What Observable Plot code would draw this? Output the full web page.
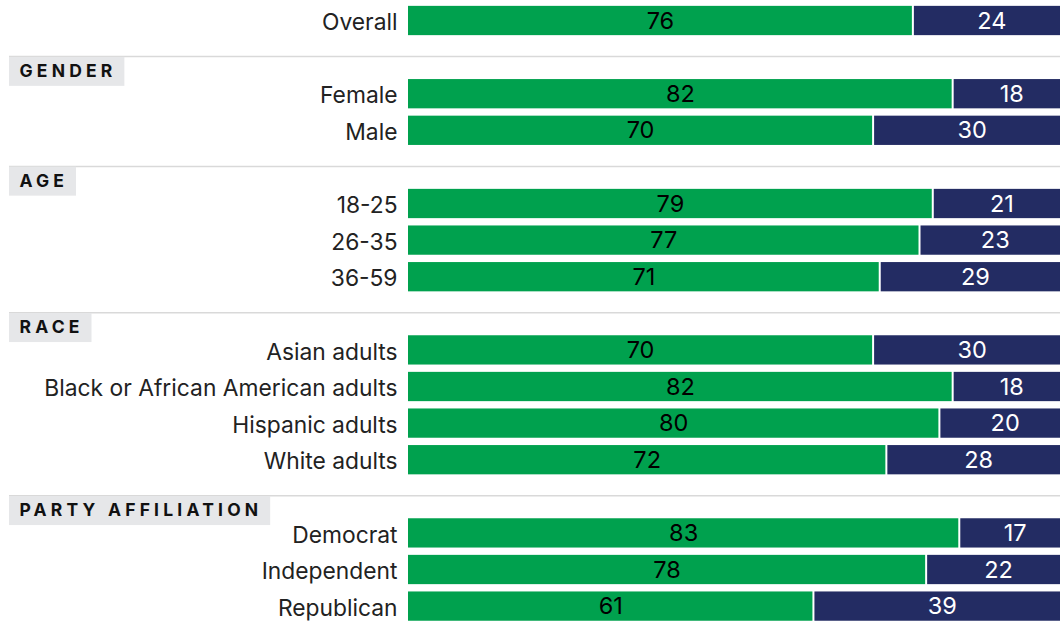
<!DOCTYPE html>
<html>
<head>
<meta charset="utf-8">
<script src="https://cdn.jsdelivr.net/npm/d3@7"></script>
<script src="https://cdn.jsdelivr.net/npm/@observablehq/plot@0.6"></script>
<style>
  html, body { margin: 0; padding: 0; background: #fff; overflow: hidden; }
  #chart svg { display: block; }
</style>
</head>
<body>
<div id="chart"></div>
<script>
// Row labels, the section each row belongs to, and the two shares per row
const rowLabels = [
  "Overall",
  "Female", "Male",
  "18-25", "26-35", "36-59",
  "Asian adults", "Black or African American adults", "Hispanic adults", "White adults",
  "Democrat", "Independent", "Republican"
];
const rowSections = [
  "",
  "GENDER", "GENDER",
  "AGE", "AGE", "AGE",
  "RACE", "RACE", "RACE", "RACE",
  "PARTY AFFILIATION", "PARTY AFFILIATION", "PARTY AFFILIATION"
];
const sectionNames = ["GENDER", "AGE", "RACE", "PARTY AFFILIATION"];
const yesValues = [76, 82, 70, 79, 77, 71, 70, 82, 80, 72, 83, 78, 61];
const noValues  = [24, 18, 30, 21, 23, 29, 30, 18, 20, 28, 17, 22, 39];

const rows = rowLabels.map((label, i) => ({
  label, section: rowSections[i], yes: yesValues[i], no: noValues[i]
}));

// Each section gets its own band slot for its heading
const slotKey = s => "§" + s;
const slots = [];
let current = "";
for (const r of rows) {
  if (r.section !== current) { slots.push(slotKey(r.section)); current = r.section; }
  slots.push(r.label);
}
const headers = sectionNames.map(name => ({name, slot: slotKey(name)}));

const GREEN = "#00a14e";
const NAVY = "#232c63";
const FONT = "Inter, 'Noto Sans', sans-serif";
const HEAD_SPACING = 4.2;

const chart = Plot.plot({
  width: 1060,
  height: 623,
  marginTop: 0,
  marginBottom: 0,
  marginLeft: 0,
  marginRight: 0,
  style: {fontFamily: FONT, background: "#fff"},
  x: {domain: [0, 100], range: [408, 1071], axis: null},
  y: {domain: slots, range: [2.2, 624.4], round: false, paddingInner: 0.2, paddingOuter: 0.1, align: 0.5, axis: null},
  marks: [
    Plot.ruleY(headers, {y: "slot", dy: -1, stroke: "#d9d9d9", strokeWidth: 1.5, insetLeft: 9}),
    Plot.barX(rows, {y: "label", x1: 0, x2: "yes", fill: GREEN}),
    Plot.barX(rows, {y: "label", x1: "yes", x2: 100, fill: NAVY, insetLeft: 2}),
    Plot.text(rows, {y: "label", x: d => d.yes / 2, text: d => String(d.yes), fill: "#000", fontSize: 23.5}),
    Plot.text(rows, {y: "label", x: d => d.yes + d.no / 2, text: d => String(d.no), fill: "#fff", fontSize: 23.5}),
    Plot.text(rows, {y: "label", x: 0, dx: -11, dy: 2, textAnchor: "end", text: "label", fill: "#222", fontSize: 22.8}),
    Plot.text(headers, {
      y: "slot", frameAnchor: "left", dx: 19, dy: 14, text: "name",
      fontSize: 17.5, fontWeight: 700, fill: "#111"
    })
  ]
});

document.getElementById("chart").append(chart);

// Grey tag behind each section heading, sized to its rendered text
const svg = d3.select(chart);
const y = chart.scale("y");
const headTexts = svg.selectAll("text").filter(function() {
  return sectionNames.includes(this.textContent);
});
const headGroup = headTexts.node().parentNode;
headTexts.style("letter-spacing", HEAD_SPACING + "px");
const tagLayer = d3.select(headGroup.parentNode).insert("g", () => headGroup);
const origin = chart.getBoundingClientRect();
headTexts.each(function() {
  const r = this.getBoundingClientRect();
  const right = r.right - origin.left;
  const lineY = y.apply(slotKey(this.textContent)) + y.bandwidth / 2 - 1;
  tagLayer.append("rect")
    .attr("x", 9)
    .attr("y", lineY + 0.75)
    .attr("width", right - HEAD_SPACING + 12 - 9)
    .attr("height", 29)
    .attr("fill", "#e6e7e9");
});
</script>
</body>
</html>
